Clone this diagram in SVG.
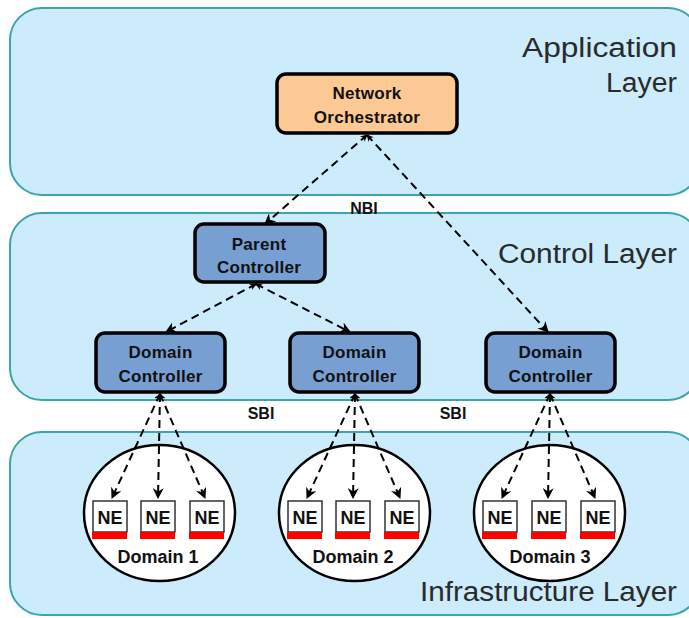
<svg xmlns="http://www.w3.org/2000/svg" width="689" height="618" viewBox="0 0 689 618">
<style>
.layer{fill:#CCEBFB;stroke:#3AA6A6;stroke-width:2}
.ltxt{font-family:"Liberation Sans",Arial,sans-serif;font-size:27px;fill:#2a2a2a;text-anchor:end}
.ctrl{fill:#779FD1;stroke:#000;stroke-width:3.5}
.orch{fill:#FCC995;stroke:#000;stroke-width:3.5}
.ntxt{font-family:"Liberation Sans",Arial,sans-serif;font-size:17px;font-weight:bold;fill:#111;text-anchor:middle;letter-spacing:0.3px}
.dom{fill:#fff;stroke:#000;stroke-width:2.5}
.ne{fill:#fff;stroke:#333;stroke-width:1.5}
.bar{fill:#FF0000}
.netxt{font-family:"Liberation Sans",Arial,sans-serif;font-size:18px;font-weight:bold;fill:#111;text-anchor:middle}
.dtxt{font-family:"Liberation Sans",Arial,sans-serif;font-size:18px;font-weight:bold;fill:#111;text-anchor:middle}
.itxt{font-family:"Liberation Sans",Arial,sans-serif;font-size:16px;font-weight:bold;fill:#111;text-anchor:middle}
.conn{fill:none;stroke:#000;stroke-width:2;stroke-dasharray:8 5;marker-end:url(#ah);marker-start:url(#as)}
</style>
<defs>
<marker id="ah" viewBox="0 0 10 10" refX="9" refY="5" markerWidth="11" markerHeight="11" markerUnits="userSpaceOnUse" orient="auto"><path d="M0,0 L10,5 L0,10 L3,5 z" fill="#000"/></marker>
<marker id="as" viewBox="0 0 10 10" refX="9" refY="5" markerWidth="7" markerHeight="7" markerUnits="userSpaceOnUse" orient="auto-start-reverse"><path d="M0,0 L10,5 L0,10 L3,5 z" fill="#000"/></marker>
</defs>

<g id="app-layer">
<rect class="layer" x="10" y="8" width="690" height="187" rx="32"/>
<text class="ltxt" x="677" y="57" textLength="155" lengthAdjust="spacingAndGlyphs">Application</text>
<text class="ltxt" x="677" y="92" textLength="71" lengthAdjust="spacingAndGlyphs">Layer</text>
</g>
<g id="control-layer">
<rect class="layer" x="10" y="213" width="690" height="187" rx="32"/>
<text class="ltxt" x="677" y="263" textLength="179" lengthAdjust="spacingAndGlyphs">Control Layer</text>
</g>
<g id="infra-layer">
<rect class="layer" x="10" y="432" width="690" height="183" rx="32"/>
<text class="ltxt" x="677" y="601" textLength="257" lengthAdjust="spacingAndGlyphs">Infrastructure Layer</text>
</g>

<g id="domain1">
<ellipse class="dom" cx="159.5" cy="513" rx="75.5" ry="68"/>
<rect class="ne" x="93" y="501" width="34" height="31"/><rect class="bar" x="92" y="532" width="35" height="7"/><text class="netxt" x="110" y="524">NE</text>
<rect class="ne" x="141" y="501" width="34" height="31"/><rect class="bar" x="140" y="532" width="35" height="7"/><text class="netxt" x="158" y="524">NE</text>
<rect class="ne" x="190" y="501" width="34" height="31"/><rect class="bar" x="189" y="532" width="35" height="7"/><text class="netxt" x="207" y="524">NE</text>
<text class="dtxt" x="158" y="563">Domain 1</text>
</g>
<g id="domain2">
<ellipse class="dom" cx="354.5" cy="513" rx="75.5" ry="68"/>
<rect class="ne" x="288" y="501" width="34" height="31"/><rect class="bar" x="287" y="532" width="35" height="7"/><text class="netxt" x="305" y="524">NE</text>
<rect class="ne" x="336" y="501" width="34" height="31"/><rect class="bar" x="335" y="532" width="35" height="7"/><text class="netxt" x="353" y="524">NE</text>
<rect class="ne" x="385" y="501" width="34" height="31"/><rect class="bar" x="384" y="532" width="35" height="7"/><text class="netxt" x="402" y="524">NE</text>
<text class="dtxt" x="353" y="563">Domain 2</text>
</g>
<g id="domain3">
<ellipse class="dom" cx="549.5" cy="513" rx="75.5" ry="68"/>
<rect class="ne" x="483" y="501" width="34" height="31"/><rect class="bar" x="482" y="532" width="35" height="7"/><text class="netxt" x="500" y="524">NE</text>
<rect class="ne" x="532" y="501" width="34" height="31"/><rect class="bar" x="531" y="532" width="35" height="7"/><text class="netxt" x="549" y="524">NE</text>
<rect class="ne" x="581" y="501" width="34" height="31"/><rect class="bar" x="580" y="532" width="35" height="7"/><text class="netxt" x="598" y="524">NE</text>
<text class="dtxt" x="550" y="563">Domain 3</text>
</g>

<g id="orchestrator">
<rect class="orch" x="277" y="74" width="180" height="59" rx="9"/>
<text class="ntxt" x="367" y="99">Network</text>
<text class="ntxt" x="367" y="123">Orchestrator</text>
</g>
<g id="parent-controller">
<rect class="ctrl" x="195" y="224" width="130" height="58" rx="9"/>
<text class="ntxt" x="259" y="250">Parent</text>
<text class="ntxt" x="259" y="273">Controller</text>
</g>
<g id="domain-controller-1">
<rect class="ctrl" x="96" y="333" width="129" height="59" rx="9"/>
<text class="ntxt" x="160.5" y="358">Domain</text>
<text class="ntxt" x="160.5" y="382">Controller</text>
</g>
<g id="domain-controller-2">
<rect class="ctrl" x="290" y="333" width="129" height="59" rx="9"/>
<text class="ntxt" x="354.5" y="358">Domain</text>
<text class="ntxt" x="354.5" y="382">Controller</text>
</g>
<g id="domain-controller-3">
<rect class="ctrl" x="486" y="333" width="129" height="59" rx="9"/>
<text class="ntxt" x="550.5" y="358">Domain</text>
<text class="ntxt" x="550.5" y="382">Controller</text>
</g>

<g id="connectors">
<line class="conn" x1="367" y1="135" x2="265" y2="224"/>
<line class="conn" x1="367" y1="135" x2="548" y2="332"/>
<line class="conn" x1="256" y1="284" x2="166" y2="332"/>
<line class="conn" x1="256" y1="284" x2="350" y2="332"/>
<line class="conn" x1="160" y1="394" x2="112" y2="498"/>
<line class="conn" x1="160" y1="394" x2="158" y2="498"/>
<line class="conn" x1="160" y1="394" x2="205" y2="498"/>
<line class="conn" x1="355" y1="394" x2="307" y2="498"/>
<line class="conn" x1="355" y1="394" x2="353" y2="498"/>
<line class="conn" x1="355" y1="394" x2="400" y2="498"/>
<line class="conn" x1="550" y1="394" x2="502" y2="498"/>
<line class="conn" x1="550" y1="394" x2="548" y2="498"/>
<line class="conn" x1="550" y1="394" x2="595" y2="498"/>
<text class="itxt" x="364" y="214">NBI</text>
<text class="itxt" x="261" y="419">SBI</text>
<text class="itxt" x="453" y="419">SBI</text>
</g>
</svg>
